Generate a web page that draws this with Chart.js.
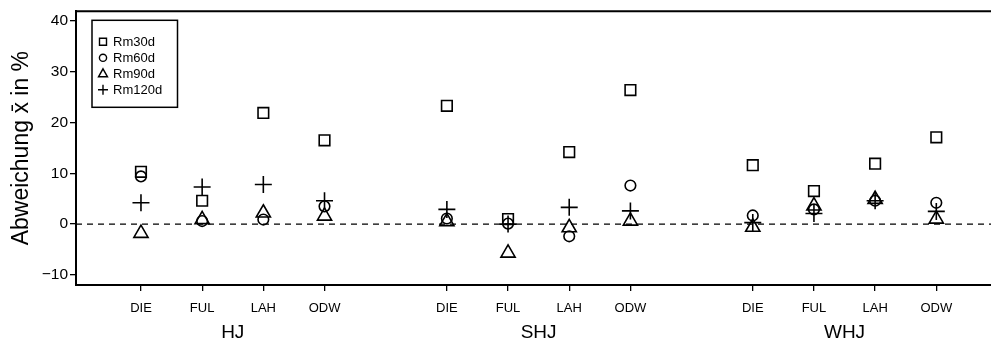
<!DOCTYPE html>
<html lang="de">

<head>
    <meta charset="UTF-8">
    <title>Abweichung Mittelwert</title>
    <script src="https://cdn.jsdelivr.net/npm/chart.js"></script>
    <style>
        body {
            margin: 0;
            background: #fff;
        }
    </style>
</head>

<body>
    <canvas id="chart" width="991" height="343"></canvas>

    <script>
        // Standorte je Gruppe und die Gruppen selbst
        const sites = ['DIE', 'FUL', 'LAH', 'ODW'];
        const groups = ['HJ', 'SHJ', 'WHJ'];

        // Abweichung in % (HJ DIE..ODW, SHJ DIE..ODW, WHJ DIE..ODW)
        const rm30 = [10.3, 4.6, 21.9, 16.5, 23.3, 1.0, 14.2, 26.4, 11.6, 6.5, 11.9, 17.1];
        const rm60 = [9.4, 0.6, 0.9, 3.5, 1.1, 0.1, -2.4, 7.6, 1.7, 2.9, 4.6, 4.2];
        const rm90 = [-1.8, 0.9, 2.2, 1.6, 0.5, -5.7, -0.7, 0.6, -0.6, 3.6, 4.9, 1.0];
        const rm120 = [4.2, 7.3, 7.8, 4.6, 2.9, 0.0, 3.3, 2.6, 0.3, 2.1, 4.6, 2.5];

        const yTicks = [-10, 0, 10, 20, 30, 40];

        // x-Position: 4 Standorte pro Gruppe, eine Lücke zwischen den Gruppen
        const xPos = [];
        groups.forEach((g, gi) => sites.forEach((s, si) => xPos.push(gi * 5 + si + 1)));
        const groupPos = groups.map((g, gi) => gi * 5 + 2.5);

        const toPoints = arr => arr.map((v, i) => ({ x: xPos[i], y: v }));

        const series = [
            { label: 'Rm30d', data: rm30, style: 'rect', r: 7.5 },
            { label: 'Rm60d', data: rm60, style: 'circle', r: 5.3 },
            { label: 'Rm90d', data: rm90, style: 'triangle', r: 8.2 },
            { label: 'Rm120d', data: rm120, style: 'cross', r: 8.5 }
        ];

        const font = 'Liberation Sans, Arial, sans-serif';

        // Nulllinie, obere Rahmenlinie und Legende im Diagramm
        const extras = {
            id: 'extras',
            beforeDatasetsDraw(chart) {
                const { ctx, chartArea } = chart;
                const y0 = chart.scales.y.getPixelForValue(0);
                ctx.save();
                ctx.strokeStyle = '#000';
                ctx.lineWidth = 1.3;
                ctx.setLineDash([6, 5]);
                ctx.beginPath();
                ctx.moveTo(chartArea.left, y0);
                ctx.lineTo(chartArea.right, y0);
                ctx.stroke();
                ctx.restore();
            },
            afterDraw(chart) {
                const { ctx, chartArea } = chart;
                ctx.save();
                ctx.strokeStyle = '#000';
                ctx.lineWidth = 2;
                ctx.beginPath();
                ctx.moveTo(chartArea.left - 1, chartArea.top);
                ctx.lineTo(chartArea.right, chartArea.top);
                ctx.stroke();

                // Legende
                const bx = chartArea.left + 16, by = chartArea.top + 9;
                ctx.lineWidth = 1.5;
                ctx.strokeRect(bx, by, 85.5, 87);
                ctx.font = '13px ' + font;
                ctx.fillStyle = '#000';
                ctx.textBaseline = 'middle';
                const mx = bx + 11;
                series.forEach((s, i) => {
                    const my = by + 21.5 + i * 16;
                    ctx.lineWidth = 1.4;
                    ctx.beginPath();
                    if (s.style === 'rect') {
                        ctx.rect(mx - 3.5, my - 3.5, 7, 7);
                    } else if (s.style === 'circle') {
                        ctx.arc(mx, my, 3.6, 0, Math.PI * 2);
                    } else if (s.style === 'triangle') {
                        ctx.moveTo(mx, my - 5);
                        ctx.lineTo(mx + 4.5, my + 3);
                        ctx.lineTo(mx - 4.5, my + 3);
                        ctx.closePath();
                    } else {
                        ctx.moveTo(mx - 5, my);
                        ctx.lineTo(mx + 5, my);
                        ctx.moveTo(mx, my - 5);
                        ctx.lineTo(mx, my + 5);
                    }
                    ctx.stroke();
                    ctx.fillText(s.label, bx + 21, my + 0.5);
                });
                ctx.restore();
            }
        };

        new Chart(document.getElementById('chart'), {
            type: 'scatter',
            data: {
                datasets: series.map(s => ({
                    label: s.label,
                    data: toPoints(s.data),
                    pointStyle: s.style,
                    pointRadius: s.r,
                    pointHoverRadius: s.r,
                    backgroundColor: 'rgba(0,0,0,0)',
                    borderColor: '#000',
                    borderWidth: 1.6
                }))
            },
            options: {
                responsive: false,
                animation: false,
                devicePixelRatio: 1,
                layout: { autoPadding: false, padding: { top: 11, right: 0, bottom: 0, left: 0 } },
                plugins: {
                    legend: { display: false },
                    tooltip: { enabled: false }
                },
                scales: {
                    x: {
                        type: 'linear',
                        position: 'bottom',
                        weight: 0,
                        min: -0.062,
                        max: 14.894,
                        afterBuildTicks: scale => { scale.ticks = xPos.map(v => ({ value: v })); },
                        afterFit: scale => { scale.height = 34; },
                        grid: {
                            drawOnChartArea: false,
                            tickLength: 6,
                            color: '#000',
                            lineWidth: 1.3
                        },
                        border: { color: '#000', width: 2 },
                        ticks: {
                            autoSkip: false,
                            maxRotation: 0,
                            padding: 10,
                            color: '#000',
                            font: { family: font, size: 13 },
                            callback: (v) => sites[(v - 1) % 5]
                        }
                    },
                    x2: {
                        type: 'linear',
                        position: 'bottom',
                        weight: 1,
                        min: -0.062,
                        max: 14.894,
                        afterBuildTicks: scale => { scale.ticks = groupPos.map(v => ({ value: v })); },
                        afterFit: scale => { scale.height = 24; },
                        grid: { display: false, drawTicks: false },
                        border: { display: false },
                        ticks: {
                            autoSkip: false,
                            maxRotation: 0,
                            padding: 2,
                            color: '#000',
                            font: { family: font, size: 19 },
                            callback: (v) => groups[Math.round((v - 2.5) / 5)]
                        }
                    },
                    y: {
                        min: -12,
                        max: 41.93,
                        afterBuildTicks: scale => { scale.ticks = yTicks.map(v => ({ value: v })); },
                        afterFit: scale => { scale.width = 76; },
                        grid: {
                            drawOnChartArea: false,
                            tickLength: 6,
                            color: '#000',
                            lineWidth: 1.3
                        },
                        border: { color: '#000', width: 2 },
                        ticks: {
                            padding: 2,
                            color: '#000',
                            font: { family: font, size: 15.5 },
                            callback: v => (v < 0 ? '\u2212' + Math.abs(v) : String(v))
                        },
                        title: {
                            display: true,
                            text: 'Abweichung x\u0304 in %',
                            color: '#000',
                            font: { family: font, size: 23 },
                            padding: { top: 8, bottom: 0 }
                        }
                    }
                }
            },
            plugins: [extras]
        });
    </script>
</body>

</html>
